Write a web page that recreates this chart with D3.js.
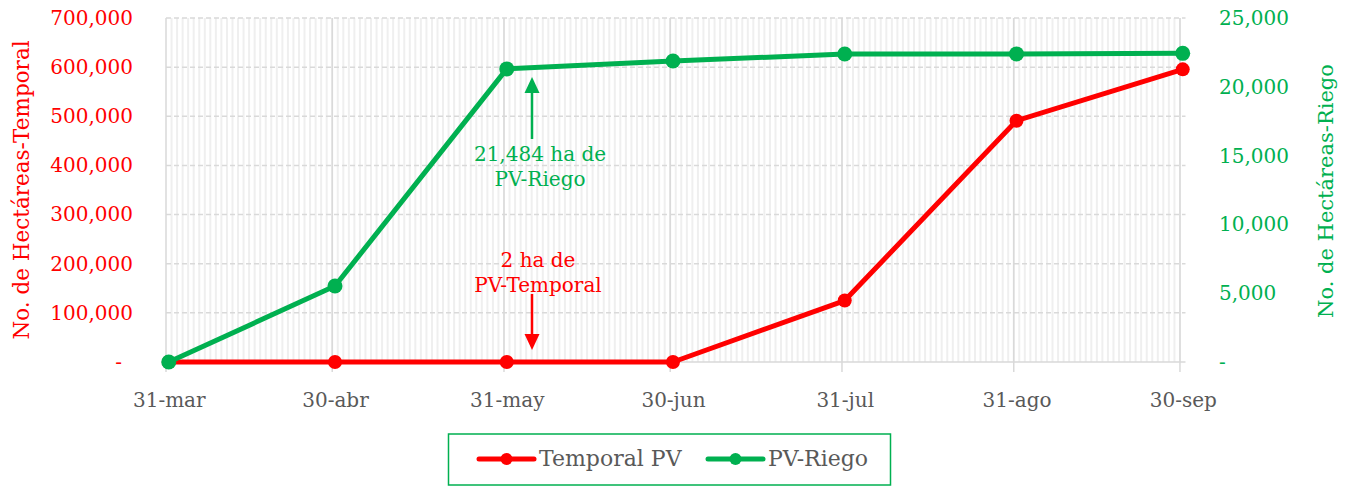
<!DOCTYPE html>
<html>
<head>
<meta charset="utf-8">
<script src="https://cdn.jsdelivr.net/npm/d3@7"></script>
<style>
  html, body { margin: 0; padding: 0; background: #fff; }
  svg { display: block; font-family: "DejaVu Serif", serif; }
</style>
</head>
<body>
<svg id="chart" width="1349" height="487"></svg>
<script>
// ---- data ----
const dates = ["2020-03-31", "2020-04-30", "2020-05-31", "2020-06-30", "2020-07-31", "2020-08-31", "2020-09-30"];
const dateLabels = ["31-mar", "30-abr", "31-may", "30-jun", "31-jul", "31-ago", "30-sep"];
const temporalPV = [0, 0, 2, 0, 125000, 491000, 595500];
const riegoPV = [0, 5520, 21300, 21870, 22380, 22390, 22430];
const leftTicks = [0, 100000, 200000, 300000, 400000, 500000, 600000, 700000];
const rightTicks = [0, 5000, 10000, 15000, 20000, 25000];
const seriesNames = ["Temporal PV", "PV-Riego"];
const annotRiego = ["21,484 ha de", "PV-Riego"];
const annotTemporal = ["2 ha de", "PV-Temporal"];

(function () {
const RED = "#FF0000", GREEN = "#00B050", GRAY = "#595959", GRID = "#d9d9d9";

const svg = d3.select("#chart");
const parse = d3.utcParse("%Y-%m-%d");
const dayMs = 864e5;
const dts = dates.map(parse);
const mid = d => new Date(d.getTime() + dayMs / 2);

const pL = 166, pR = 1185.5, pT = 18, pB = 362;
const x = d3.scaleUtc()
  .domain([dts[0], new Date(dts[dts.length - 1].getTime() + dayMs)])
  .range([pL, pR]);
const yL = d3.scaleLinear().domain([0, 700000]).range([pB, pT]);
const yR = d3.scaleLinear().domain([0, 25000]).range([pB, pT]);

// minor daily gridlines
const days = d3.utcDay.range(x.domain()[0], x.domain()[1]);
svg.append("g").selectAll("line").data(days.slice(1)).join("line")
  .attr("x1", d => x(d)).attr("x2", d => x(d))
  .attr("y1", pT).attr("y2", pB)
  .attr("stroke", "#efefef").attr("stroke-width", 2);

// horizontal gridlines (dashed)
svg.append("g").selectAll("line").data(leftTicks.slice(1)).join("line")
  .attr("x1", pL).attr("x2", pR)
  .attr("y1", d => yL(d)).attr("y2", d => yL(d))
  .attr("stroke", GRID).attr("stroke-width", 1.5).attr("stroke-dasharray", "5,3");

// major vertical gridlines + tick marks
svg.append("g").selectAll("line").data(dts).join("line")
  .attr("x1", d => x(d)).attr("x2", d => x(d))
  .attr("y1", pT).attr("y2", pB + 10)
  .attr("stroke", GRID).attr("stroke-width", 1.5);

// bottom axis line
svg.append("line").attr("x1", pL).attr("x2", pR)
  .attr("y1", pB).attr("y2", pB)
  .attr("stroke", GRID).attr("stroke-width", 1.5);

// x axis labels
const xAxis = d3.axisBottom(x)
  .tickValues(dts.map(mid))
  .tickFormat((d, i) => dateLabels[i])
  .tickSize(0).tickPadding(0);
const gx = svg.append("g").attr("transform", `translate(0,${pB})`).call(xAxis);
gx.select(".domain").remove();
gx.selectAll("text").attr("y", 45).attr("dy", 0)
  .attr("fill", GRAY).style("font-size", "20px").style("font-family", "DejaVu Serif");

// left axis
const fmt = d3.format(",");
const yAxisL = d3.axisLeft(yL).tickValues(leftTicks)
  .tickFormat(d => d === 0 ? "-" : fmt(d)).tickSize(0).tickPadding(0);
const gl = svg.append("g").attr("transform", "translate(133,0)").call(yAxisL);
gl.select(".domain").remove();
gl.selectAll("text").attr("fill", RED).style("font-size", "20px").style("font-family", "DejaVu Serif");
gl.selectAll(".tick").filter(d => d === 0).select("text").attr("x", -11);

// right axis
const yAxisR = d3.axisRight(yR).tickValues(rightTicks)
  .tickFormat(d => d === 0 ? "-" : fmt(d)).tickSize(0).tickPadding(0);
const gr = svg.append("g").attr("transform", "translate(1219,0)").call(yAxisR);
gr.select(".domain").remove();
gr.selectAll("text").attr("fill", GREEN).style("font-size", "20px").style("font-family", "DejaVu Serif");

// axis titles
svg.append("text").attr("transform", "translate(29,190) rotate(-90)")
  .attr("text-anchor", "middle").attr("fill", RED).style("font-size", "21.5px")
  .text("No. de Hectáreas-Temporal");
svg.append("text").attr("transform", "translate(1333,191) rotate(-90)")
  .attr("text-anchor", "middle").attr("fill", GREEN).style("font-size", "21px")
  .text("No. de Hectáreas-Riego");

// lines
const lineL = d3.line().x((d, i) => x(mid(dts[i]))).y(d => yL(d));
const lineR = d3.line().x((d, i) => x(mid(dts[i]))).y(d => yR(d));

svg.append("path").datum(temporalPV).attr("d", lineL)
  .attr("fill", "none").attr("stroke", RED).attr("stroke-width", 5).attr("stroke-linejoin", "round");
svg.append("g").selectAll("circle").data(temporalPV).join("circle")
  .attr("cx", (d, i) => x(mid(dts[i]))).attr("cy", d => yL(d)).attr("r", 7).attr("fill", RED);

svg.append("path").datum(riegoPV).attr("d", lineR)
  .attr("fill", "none").attr("stroke", GREEN).attr("stroke-width", 5).attr("stroke-linejoin", "round");
svg.append("g").selectAll("circle").data(riegoPV).join("circle")
  .attr("cx", (d, i) => x(mid(dts[i]))).attr("cy", d => yR(d)).attr("r", 7.5).attr("fill", GREEN);

// annotations
const ax = 532;
svg.append("line").attr("x1", ax).attr("x2", ax).attr("y1", 139).attr("y2", 90)
  .attr("stroke", GREEN).attr("stroke-width", 2.5);
svg.append("path").attr("d", `M${ax},77 L${ax - 7.5},93 L${ax + 7.5},93 Z`).attr("fill", GREEN);
svg.append("text").attr("x", 540).attr("y", 161).attr("text-anchor", "middle")
  .attr("fill", GREEN).style("font-size", "20px").text(annotRiego[0]);
svg.append("text").attr("x", 540).attr("y", 186).attr("text-anchor", "middle")
  .attr("fill", GREEN).style("font-size", "20px").text(annotRiego[1]);
svg.append("text").attr("x", 538).attr("y", 267).attr("text-anchor", "middle")
  .attr("fill", RED).style("font-size", "20px").text(annotTemporal[0]);
svg.append("text").attr("x", 538).attr("y", 292).attr("text-anchor", "middle")
  .attr("fill", RED).style("font-size", "20px").text(annotTemporal[1]);
svg.append("line").attr("x1", ax).attr("x2", ax).attr("y1", 294).attr("y2", 337)
  .attr("stroke", RED).attr("stroke-width", 2.5);
svg.append("path").attr("d", `M${ax},350 L${ax - 7.5},334 L${ax + 7.5},334 Z`).attr("fill", RED);

// legend
svg.append("rect").attr("x", 448.5).attr("y", 434).attr("width", 442).attr("height", 51)
  .attr("fill", "none").attr("stroke", GREEN).attr("stroke-width", 1.5);
const legItems = [
  { name: seriesNames[0], color: RED, x0: 479 },
  { name: seriesNames[1], color: GREEN, x0: 708 }
];
const lg = svg.append("g").selectAll("g").data(legItems).join("g");
lg.append("line").attr("x1", d => d.x0).attr("x2", d => d.x0 + 55)
  .attr("y1", 459).attr("y2", 459).attr("stroke", d => d.color)
  .attr("stroke-width", 5).attr("stroke-linecap", "round");
lg.append("circle").attr("cx", d => d.x0 + 27.5).attr("cy", 459).attr("r", 6).attr("fill", d => d.color);
lg.append("text").attr("x", d => d.x0 + 60).attr("y", 466)
  .attr("fill", GRAY).style("font-size", "22px").text(d => d.name);
})();
</script>
</body>
</html>
